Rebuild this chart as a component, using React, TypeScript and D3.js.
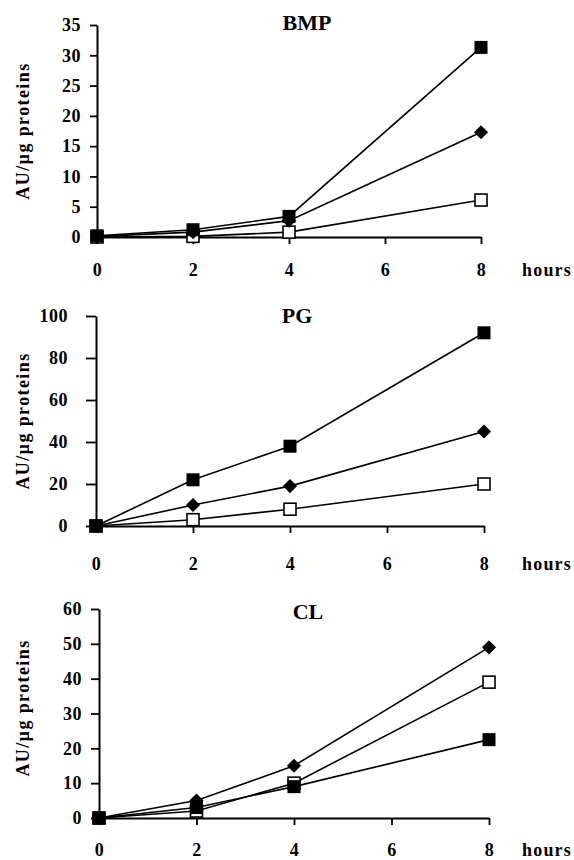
import React, { useEffect, useRef } from "react";
import * as d3 from "d3";

// time points (hours) and axis ticks
const hours = [0, 2, 4, 8];
const xTicks = [0, 2, 4, 6, 8];

const titles = ["BMP", "PG", "CL"];
const yMaxes = [35, 100, 60];
const yTicksBmp = [0, 5, 10, 15, 20, 25, 30, 35];
const yTicksPg = [0, 20, 40, 60, 80, 100];
const yTicksCl = [0, 10, 20, 30, 40, 50, 60];

// series values
const bmpOpen = [0, 0.1, 0.8, 6.1];
const bmpDiamond = [0.1, 0.8, 2.7, 17.3];
const bmpFilled = [0.2, 1.2, 3.4, 31.3];

const pgOpen = [0, 3, 8, 20];
const pgDiamond = [0, 10, 19, 45];
const pgFilled = [0, 22, 38, 92];

const clOpen = [0, 2, 10, 39];
const clDiamond = [0, 5, 15, 49];
const clFilled = [0, 3, 9, 22.5];

const FONT = "'Liberation Serif', 'Times New Roman', serif";

function App() {
  const ref = useRef<SVGSVGElement>(null);

  useEffect(() => {
    const svg = d3.select(ref.current);
    svg.selectAll("*").remove();

    const panels = [
      { title: titles[0], yMax: yMaxes[0], yTicks: yTicksBmp, series: [bmpOpen, bmpDiamond, bmpFilled],
        x0: 97, x1: 481, yT: 25, yB: 237, tick: 7, pad: 9, xPad: 19, titleX: 307, titleY: 30, labelY: 131 },
      { title: titles[1], yMax: yMaxes[1], yTicks: yTicksPg, series: [pgOpen, pgDiamond, pgFilled],
        x0: 96, x1: 484, yT: 316, yB: 526, tick: 10, pad: 18, xPad: 24, titleX: 297, titleY: 323, labelY: 421 },
      { title: titles[2], yMax: yMaxes[2], yTicks: yTicksCl, series: [clOpen, clDiamond, clFilled],
        x0: 99, x1: 489, yT: 609, yB: 818, tick: 8, pad: 9, xPad: 18, titleX: 308, titleY: 619, labelY: 708 },
    ];

    const kinds = ["open", "diamond", "filled"];

    panels.forEach(p => {
      const x = d3.scaleLinear().domain([0, 8]).range([p.x0, p.x1]);
      const y = d3.scaleLinear().domain([0, p.yMax]).range([p.yB, p.yT]);
      const g = svg.append("g");

      const yAxis = d3.axisLeft(y).tickValues(p.yTicks).tickSize(p.tick).tickSizeOuter(0).tickPadding(p.pad).tickFormat(d3.format("d"));
      const xAxis = d3.axisBottom(x).tickValues(xTicks).tickSize(7).tickSizeOuter(0).tickPadding(p.xPad).tickFormat(d3.format("d"));

      const ya = g.append("g").attr("transform", `translate(${p.x0},0)`).call(yAxis);
      const xa = g.append("g").attr("transform", `translate(0,${p.yB})`).call(xAxis);
      [ya, xa].forEach(a => {
        a.select(".domain").attr("stroke", "#000").attr("stroke-width", 2);
        a.selectAll(".tick line").attr("stroke", "#000").attr("stroke-width", 1.8);
        a.selectAll(".tick text")
          .attr("fill", "#000")
          .style("font-family", FONT)
          .style("font-weight", "bold")
          .style("font-size", "18px")
          .style("letter-spacing", "0.5px");
      });

      g.append("text")
        .attr("x", p.titleX).attr("y", p.titleY)
        .attr("text-anchor", "middle")
        .style("font-family", FONT).style("font-weight", "bold").style("font-size", "22px")
        .text(p.title);

      g.append("text")
        .attr("transform", `translate(29,${p.labelY}) rotate(-90)`)
        .attr("text-anchor", "middle")
        .style("font-family", FONT).style("font-weight", "bold").style("font-size", "18px")
        .style("letter-spacing", "1.4px")
        .text("AU/µg proteins");

      g.append("text")
        .attr("x", 522).attr("y", p.yB + p.xPad + 7 + 13)
        .style("font-family", FONT).style("font-weight", "bold").style("font-size", "18px")
        .style("letter-spacing", "1.2px")
        .text("hours");

      const line = d3.line<number>().x((d, i) => x(hours[i])).y(d => y(d));

      p.series.forEach((vals, si) => {
        const kind = kinds[si];
        g.append("path")
          .attr("d", line(vals))
          .attr("fill", "none")
          .attr("stroke", "#000")
          .attr("stroke-width", 1.6);
        const pts = g.selectAll(null).data(vals).enter();
        if (kind === "diamond") {
          pts.append("path")
            .attr("d", d3.symbol().type(d3.symbolSquare).size(100)())
            .attr("transform", (d, i) => `translate(${x(hours[i])},${y(d)}) rotate(45)`)
            .attr("fill", "#000");
        } else {
          const s = kind === "filled" ? 13 : 12;
          pts.append("rect")
            .attr("x", (d, i) => x(hours[i]) - s / 2)
            .attr("y", d => y(d) - s / 2)
            .attr("width", s).attr("height", s)
            .attr("fill", kind === "filled" ? "#000" : "#fff")
            .attr("stroke", "#000")
            .attr("stroke-width", kind === "filled" ? 0 : 1.6);
        }
      });
    });
  }, []);

  return (
    <svg ref={ref} width={574} height={860}
      style={{ position: "absolute", left: 0, top: 0, background: "#fff" }} />
  );
}

export default App;
